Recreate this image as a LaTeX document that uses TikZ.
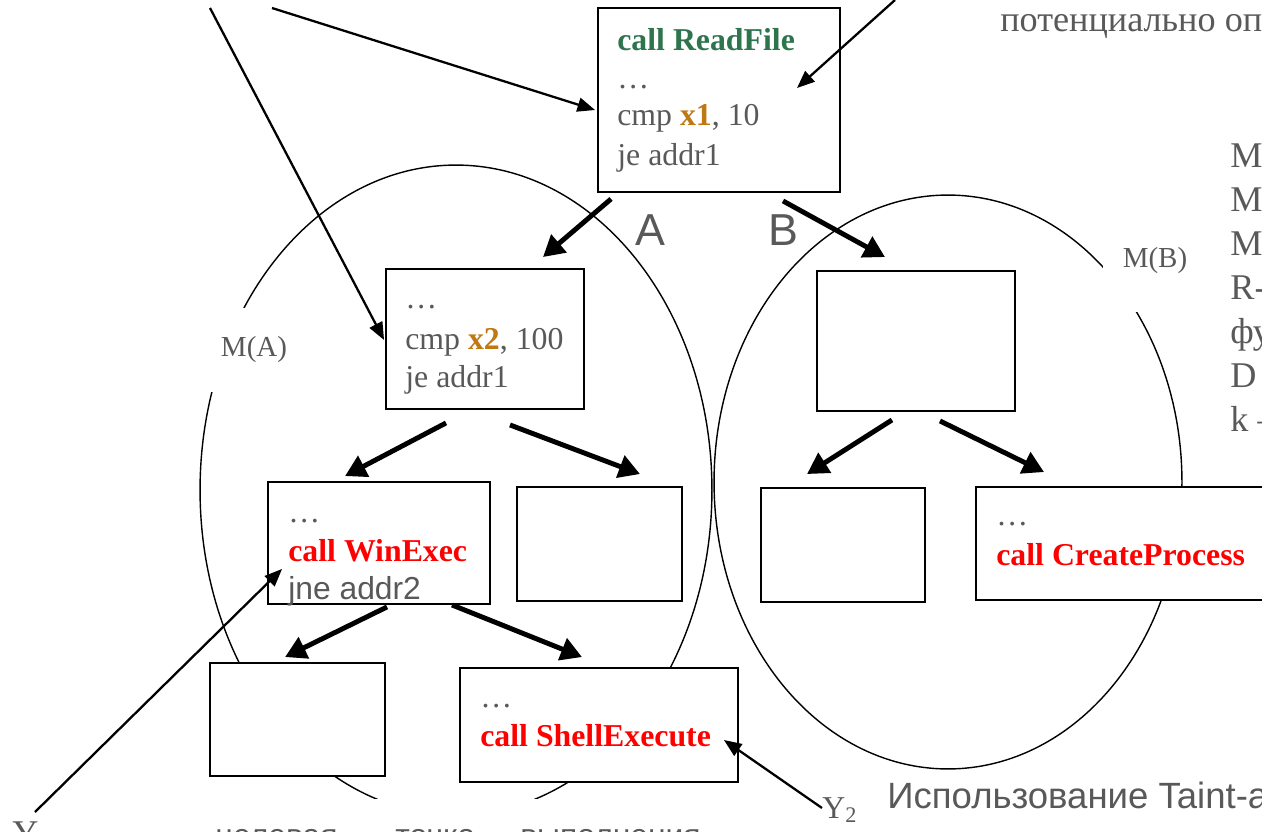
\documentclass[tikz,border=0pt]{standalone}
\usepackage{fontspec}
\setmainfont{Liberation Serif}
\setsansfont{Liberation Sans}
\usetikzlibrary{arrows.meta,shapes.geometric}
\definecolor{txtgray}{RGB}{89,89,89}
\definecolor{rfgreen}{RGB}{46,117,78}
\definecolor{xorange}{RGB}{192,120,20}
\definecolor{callred}{RGB}{255,0,0}
\begin{document}
\begin{tikzpicture}[x=0.02cm,y=-0.02cm,
  box/.style={draw, line width=1.1pt, fill=white, inner sep=0pt},
  region/.style={ellipse, draw, line width=0.8pt, inner sep=0pt},
  code/.style={anchor=base west, inner sep=0pt, font=\fontsize{18.1}{20}\selectfont, text=txtgray},
  sanscode/.style={code, font=\sffamily\fontsize{18.1}{20}\selectfont},
  bigserif/.style={code, font=\fontsize{20.6}{22}\selectfont},
  bigsans/.style={code, font=\sffamily\fontsize{20.8}{22}\selectfont},
  callgreen/.style={code, text=rfgreen, font=\bfseries\fontsize{18.1}{20}\selectfont},
  callcode/.style={code, text=callred, font=\bfseries\fontsize{18.1}{20}\selectfont},
  dots/.style={code},
  setlabel/.style={fill=white, text=txtgray, font=\fontsize{16.5}{18}\selectfont, inner ysep=0pt},
  branchlabel/.style={text=txtgray, font=\sffamily\fontsize{25.5}{27}\selectfont, inner sep=0pt},
  thickarrow/.style={line width=2.8pt, -{Triangle[length=12pt,width=13pt]}},
  thinarrow/.style={line width=1.3pt, -{Triangle[length=10pt,width=8pt]}}]
\useasboundingbox (0,0) rectangle (1262,832);

% regions
\node[region, minimum width=10.24cm, minimum height=13cm] (MA) at (456,490) {};
\node[region, minimum width=9.36cm, minimum height=11.48cm] (MB) at (948,482) {};

% boxes
\node[box, minimum width=4.84cm, minimum height=3.68cm] (top) at (719,100) {};
\node[box, minimum width=3.96cm, minimum height=2.8cm] (b2) at (485,339) {};
\node[box, minimum width=4.44cm, minimum height=2.44cm] (bw) at (379,543) {};
\node[box, minimum width=3.3cm, minimum height=2.28cm] (be) at (599.5,544) {};
\node[box, minimum width=3.5cm, minimum height=2.26cm] (bl) at (297.5,719.5) {};
\node[box, minimum width=5.56cm, minimum height=2.28cm] (bs) at (599,725) {};
\node[box, minimum width=3.96cm, minimum height=2.8cm] (rb) at (916,341) {};
\node[box, minimum width=3.28cm, minimum height=2.28cm] (rbl) at (843,545) {};
\node[box, minimum width=6.28cm, minimum height=2.26cm] (rc) at (1133,543.5) {};

% region labels
\node[setlabel, inner xsep=0.26cm, minimum height=1.7cm] (lma) at (254,350) {M(A)};
\node[setlabel, inner xsep=0.4cm, minimum height=2.04cm] (lmb) at (1155,261) {M(B)};

% box texts
\node[callgreen] (t11) at (617,50) {call ReadFile};
\node[dots] (t12) at (617,88) {\dots};
\node[code] (t13) at (617,125) {cmp \textcolor{xorange}{\textbf{x1}}, 10};
\node[code] (t14) at (617,165) {je addr1};

\node[dots] (t21) at (405,308) {\dots};
\node[code] (t22) at (405,349) {cmp \textcolor{xorange}{\textbf{x2}}, 100};
\node[code] (t23) at (405,387) {je addr1};

\node[dots] (t31) at (288,522) {\dots};
\node[callcode] (t32) at (288,561) {call WinExec};
\node[sanscode] (t33) at (288,599) {jne addr2};

\node[dots] (t41) at (480,707) {\dots};
\node[callcode] (t42) at (480,746) {call ShellExecute};

\node[dots] (t51) at (996,525) {\dots};
\node[callcode] (t52) at (996,565) {call CreateProcess};

% branch labels
\node[branchlabel] (lA) at (650,230) {A};
\node[branchlabel] (lB) at (783,230) {B};

% side texts
\node[bigserif] (s0) at (1000,31) {потенциально оп};
\node[bigserif] (s1) at (1230,167) {M};
\node[bigserif] (s2) at (1230,211) {M};
\node[bigserif] (s3) at (1230,255) {M};
\node[bigserif] (s4) at (1230,299) {R-};
\node[bigserif] (s5) at (1230,343) {фу};
\node[bigserif] (s6) at (1230,387) {D};
\node[bigserif] (s7) at (1230,431) {k –};

% bottom texts
\node[fill=white, anchor=north west, inner sep=0pt, minimum width=15.2cm, minimum height=1cm] (ybg) at (0,799) {};
\node[bigserif] (Y1) at (12,845) {Y};
\node[sanscode] (w1) at (215,846) {целевая};
\node[sanscode] (w2) at (395,846) {точка};
\node[sanscode] (w3) at (520,846) {выполнения};
\node[code] (Y2) at (822,818) {Y\textsubscript{2}};
\node[bigsans] (r1) at (887,808) {Использование Taint-а};
\node[bigsans] (r2) at (887,852) {символьного уравнения};

% thick arrows
\draw[thickarrow] ([shift={(14,6)}]top.south west) -- ([shift={(58,-11)}]b2.north);
\draw[thickarrow] ([shift={(64,8)}]top.south) -- ([shift={(-31,-13)}]rb.north);
\draw[thickarrow] ([shift={(-39,13)}]b2.south) -- ([shift={(-34,-5)}]bw.north);
\draw[thickarrow] ([shift={(25,15)}]b2.south) -- ([shift={(40.5,-12)}]be.north);
\draw[thickarrow] ([shift={(-24,8)}]rb.south) -- ([shift={(-36,-13)}]rbl.north);
\draw[thickarrow] ([shift={(24,9)}]rb.south) -- ([shift={(69,-14)}]rc.north west);
\draw[thickarrow] ([shift={(8,2)}]bw.south) -- ([shift={(-12.5,-5)}]bl.north);
\draw[thickarrow] ([shift={(73,0)}]bw.south) -- ([shift={(-17,-10)}]bs.north);

% thin arrows
\coordinate (p1) at (272,8);
\coordinate (p2) at (210,8);
\coordinate (p3) at (895,0);
\draw[thinarrow] (p1) -- ([shift={(-2,10)}]top.west);
\draw[thinarrow] (p2) -- ([shift={(-1,1)}]b2.west);
\draw[thinarrow] (p3) -- ([shift={(78,-12)}]top.center);
\draw[thinarrow] ([shift={(23,-33)}]Y1.base west) -- ([shift={(15,-36)}]bw.south west);
\draw[thinarrow] ([shift={(0,-10)}]Y2.base west) -- ([shift={(-15,15)}]bs.east);
\end{tikzpicture}
\end{document}
